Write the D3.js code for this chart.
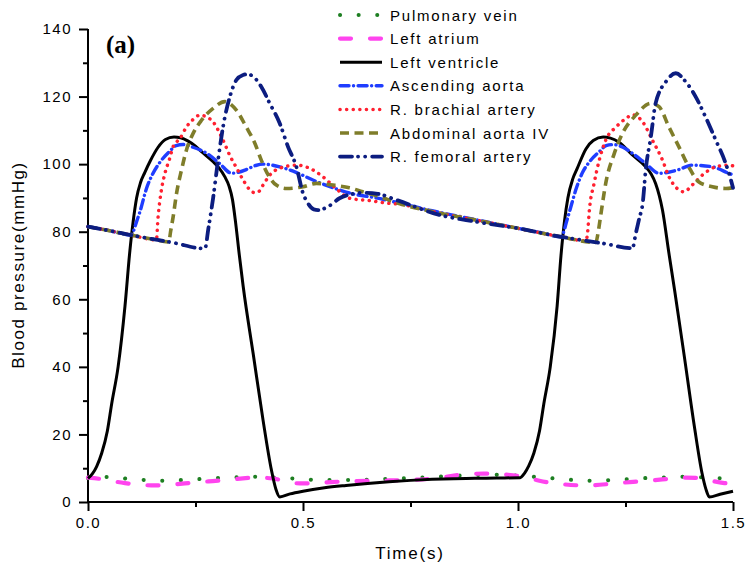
<!DOCTYPE html>
<html><head><meta charset="utf-8">
<script src="https://cdn.jsdelivr.net/npm/d3@7"></script>
<style>
body{margin:0;background:#fff;}
svg{display:block;font-family:"Liberation Sans",Arial,sans-serif;}
</style></head>
<body><svg id="c" width="745" height="567"></svg>
<script>
// ---- data (time in s, pressure in mmHg) ----
const seriesNames = ["Pulmonary vein","Left atrium","Left ventricle","Ascending aorta","R. brachial artery","Abdominal aorta IV","R. femoral artery"];
const xTicks = [0.0, 0.5, 1.0, 1.5];
const xTickLabels = ["0.0","0.5","1.0","1.5"];
const yTicks = [0,20,40,60,80,100,120,140];

const pulmonaryVein = [[0,7.0],[0.047,7.4],[0.09,6.9],[0.132,6.5],[0.175,6.3],[0.217,6.5],[0.26,6.8],[0.3,7.1],[0.345,7.3],[0.39,7.5],[0.43,7.3],[0.473,7.0],[0.52,6.6],[0.56,6.5],[0.6,6.5],[0.647,6.6],[0.686,6.8],[0.73,7.0],[0.775,7.2],[0.818,7.5],[0.863,7.8],[0.902,8.0],[0.946,8.1],[0.99,7.9],[1.034,7.5],[1.09,6.9],[1.132,6.5],[1.175,6.3],[1.217,6.5],[1.26,6.8],[1.3,7.1],[1.345,7.3],[1.39,7.5],[1.43,7.3],[1.473,7.0],[1.5,6.8]];

const leftAtrium = [[0,7.2],[0.03,6.8],[0.06,6.1],[0.086,5.6],[0.12,5.1],[0.155,4.9],[0.19,5.1],[0.225,5.5],[0.26,5.9],[0.29,6.2],[0.33,6.6],[0.36,7.0],[0.39,7.2],[0.43,7.0],[0.457,6.1],[0.48,5.6],[0.5,5.5],[0.55,5.8],[0.6,6.1],[0.667,6.3],[0.765,6.6],[0.82,7.2],[0.863,8.0],[0.92,8.4],[0.96,8.2],[1.01,7.5],[1.04,6.6],[1.07,5.8],[1.1,5.3],[1.155,4.9],[1.19,5.1],[1.225,5.5],[1.26,5.9],[1.29,6.2],[1.33,6.6],[1.36,7.0],[1.39,7.2],[1.43,7.0],[1.457,6.1],[1.48,5.6],[1.5,5.4]];

const leftVentricle = [[0,7],[0.01,8.3],[0.02,10.5],[0.032,14.5],[0.045,21],[0.055,29],[0.07,40],[0.086,58],[0.0975,74.5],[0.105,83],[0.113,90],[0.122,94.5],[0.132,97.5],[0.145,101],[0.163,105],[0.18,107.3],[0.2,108],[0.215,107.8],[0.233,106.8],[0.25,105.3],[0.264,103.7],[0.291,100.7],[0.305,98.8],[0.318,96.3],[0.328,93.5],[0.336,89.5],[0.343,83],[0.352,73],[0.361,63.7],[0.384,44],[0.407,24.3],[0.4265,9.5],[0.437,3.8],[0.446,1.5],[0.47,2.4],[0.5,3.2],[0.55,4.2],[0.6,4.9],[0.65,5.5],[0.7,6],[0.75,6.4],[0.8,6.7],[0.85,6.9],[0.9,7.0],[0.95,7.1],[1.005,7.2],[1.015,8.5],[1.025,10.7],[1.037,14.5],[1.05,21],[1.06,29],[1.075,40],[1.091,58],[1.1,73],[1.108,83],[1.116,90],[1.127,95.5],[1.137,98.5],[1.158,104.5],[1.175,107],[1.198,108],[1.215,107.7],[1.235,106.5],[1.266,102.7],[1.297,99.2],[1.31,97],[1.32,94.3],[1.336,86.4],[1.351,73.6],[1.365,62],[1.388,42],[1.41,22.5],[1.428,8.5],[1.437,3.8],[1.445,1.5],[1.47,2.3],[1.5,3.2]];

const ascendingAorta = [[0,81.5],[0.05,80.3],[0.1,79],[0.105,80],[0.113,83],[0.121,86],[0.136,92.8],[0.15,97],[0.167,100.5],[0.19,103.8],[0.205,105.5],[0.221,105.8],[0.244,105],[0.276,103.2],[0.306,100.2],[0.334,97.3],[0.35,97.6],[0.368,98.4],[0.39,99.6],[0.407,100],[0.446,99.2],[0.485,97.5],[0.523,95.3],[0.57,93],[0.616,91.2],[0.67,90],[0.72,88.6],[0.8,86.2],[0.9,83.6],[1.0,81],[1.05,79.8],[1.1,78.5],[1.105,79.5],[1.113,83],[1.121,86.5],[1.136,93],[1.15,97.5],[1.167,100.8],[1.19,103.8],[1.205,105.5],[1.221,105.8],[1.244,105],[1.266,103.2],[1.297,100.2],[1.328,97.3],[1.35,97.6],[1.374,98.4],[1.405,99.7],[1.452,99.2],[1.49,97.3],[1.5,96.8]];

const brachialArtery = [[0,81.5],[0.05,80.3],[0.1,79],[0.159,77.6],[0.163,84.4],[0.17,91.8],[0.179,97.3],[0.19,101.7],[0.198,105.2],[0.214,107.6],[0.229,111],[0.245,113.3],[0.26,114.5],[0.275,114],[0.291,112.5],[0.305,109.5],[0.318,106],[0.33,102.5],[0.345,99],[0.36,95.5],[0.375,92.6],[0.386,91.6],[0.396,91.8],[0.407,93.8],[0.423,96.8],[0.446,98.8],[0.485,99.7],[0.515,98.8],[0.546,96.3],[0.577,92.8],[0.608,89.9],[0.655,89.2],[0.7,88.4],[0.72,88.2],[0.8,86],[0.9,83.5],[1.0,81],[1.1,78.5],[1.158,77.3],[1.162,80],[1.166,86.4],[1.177,94.3],[1.189,101.2],[1.204,107.1],[1.228,111],[1.251,113.5],[1.266,114.6],[1.29,112.5],[1.3125,107.1],[1.336,101.2],[1.351,96.3],[1.37,92.8],[1.386,91.8],[1.405,93.8],[1.429,96.8],[1.46,99.2],[1.49,99.7],[1.5,99.5]];

const abdominalAorta = [[0,81.5],[0.05,80.3],[0.1,79],[0.15,77.8],[0.188,77],[0.192,80],[0.198,84.4],[0.206,91.4],[0.2175,98.3],[0.229,104.2],[0.2445,109.1],[0.264,113],[0.291,116.5],[0.318,118.5],[0.345,116],[0.368,111],[0.388,106.2],[0.403,101.2],[0.419,96.8],[0.438,93.8],[0.461,92.8],[0.5,93.3],[0.531,94.3],[0.57,93.8],[0.608,93],[0.639,91.8],[0.678,90.4],[0.717,88.6],[0.8,86],[0.9,83.5],[1.0,81],[1.1,78.5],[1.181,76.8],[1.186,79.5],[1.193,85.4],[1.204,94.3],[1.224,103.2],[1.243,109.1],[1.274,114.5],[1.309,118],[1.328,117],[1.351,111],[1.374,105.2],[1.397,99.2],[1.42,94.8],[1.452,93.3],[1.483,92.8],[1.5,93]];

const femoralArtery = [[0,81.5],[0.05,80.3],[0.1,79],[0.2,76.7],[0.272,75],[0.28,81],[0.291,90],[0.3025,101.2],[0.314,111],[0.33,120],[0.345,124.9],[0.3606,126.4],[0.37,126.6],[0.38,126.3],[0.403,122.9],[0.4226,118],[0.4458,112.1],[0.465,105.2],[0.4846,99.2],[0.5,91.4],[0.5115,88.4],[0.525,86.6],[0.535,86.4],[0.558,87.4],[0.585,89.9],[0.616,91.2],[0.639,91.5],[0.674,91.2],[0.717,89.4],[0.817,85],[0.9,83],[1.0,81],[1.1,78.5],[1.2,76.5],[1.266,75.1],[1.274,79.5],[1.282,84],[1.29,88.4],[1.297,98.3],[1.309,108.1],[1.32,118],[1.344,124.4],[1.367,126.9],[1.39,124.4],[1.413,120],[1.436,114],[1.46,107.1],[1.483,100.2],[1.494,95.8],[1.5,93]];

const seriesData = [pulmonaryVein, leftAtrium, leftVentricle, ascendingAorta, brachialArtery, abdominalAorta, femoralArtery];

// ---- styles ----
const styles = [
  {color:"#1e7f22", width:4,   dash:"0.1,18.5", cap:"round"},
  {color:"#ff44ee", width:4.2, dash:"11,19",    cap:"round"},
  {color:"#000000", width:3,   dash:null,       cap:"butt"},
  {color:"#1f3dff", width:3.4, dash:"9,4.5,0.1,4.5", cap:"round"},
  {color:"#ff2030", width:3.5, dash:"0.1,6.5",  cap:"round"},
  {color:"#7f7d2a", width:3.6, dash:"9,5.5",    cap:"butt"},
  {color:"#0c1d80", width:3.8, dash:"12,6,0.1,7,0.1,7", cap:"round"}
];

const svg = d3.select("#c");
const x = d3.scaleLinear().domain([0,1.5]).range([88,733]);
const y = d3.scaleLinear().domain([0,140]).range([502,29]);

// axes
const gy = svg.append("g").attr("transform","translate(88,0)")
  .call(d3.axisLeft(y).tickValues(yTicks).tickSize(9).tickPadding(7).tickFormat(d3.format("d")));
svg.append("g").attr("transform","translate(88,0)")
  .call(d3.axisLeft(y).tickValues([10,30,50,70,90,110,130]).tickSize(5).tickFormat(""))
  .select(".domain").remove();
const gx = svg.append("g").attr("transform","translate(0,502)")
  .call(d3.axisBottom(x).tickValues(xTicks).tickSize(9).tickPadding(6).tickFormat((d,i)=>xTickLabels[i]));
svg.append("g").attr("transform","translate(0,502)")
  .call(d3.axisBottom(x).tickValues([0.25,0.75,1.25]).tickSize(5).tickFormat(""))
  .select(".domain").remove();
svg.selectAll(".domain").attr("stroke","#000").attr("stroke-width",2);
svg.selectAll(".tick line").attr("stroke","#000").attr("stroke-width",2);
svg.selectAll(".tick text").attr("font-size","15px").attr("font-family","Liberation Sans, Arial, sans-serif")
  .attr("fill","#000").style("letter-spacing","1.5px");
gy.select(".domain").attr("d", `M0,${y(0)}V${y(140)}`);
gx.select(".domain").attr("d", `M${x(0)},0H${x(1.5)}`);

// lines
const line = d3.line().x(d=>x(d[0])).y(d=>y(d[1])).curve(d3.curveMonotoneX);
seriesData.forEach((data,i)=>{
  const s = styles[i];
  svg.append("path").datum(data).attr("d",line).attr("fill","none")
    .attr("stroke",s.color).attr("stroke-width",s.width)
    .attr("stroke-linecap",s.cap).attr("stroke-linejoin","round")
    .attr("stroke-dasharray",s.dash);
});

// legend
const lg = svg.append("g");
seriesNames.forEach((name,i)=>{
  const s = styles[i];
  const yy = 15 + i*23.6;
  lg.append("line").attr("x1",340).attr("x2",382).attr("y1",yy).attr("y2",yy)
    .attr("stroke",s.color).attr("stroke-width",s.width)
    .attr("stroke-linecap",s.cap).attr("stroke-dasharray",s.dash);
  lg.append("text").attr("x",390).attr("y",yy+5.5).text(name)
    .attr("font-size","15px").style("letter-spacing","1.8px").attr("fill","#000");
});

// titles
svg.append("text").attr("x",410).attr("y",559).attr("text-anchor","middle")
  .attr("font-size","17px").style("letter-spacing","1.8px").text("Time(s)");
svg.append("text").attr("transform","translate(24,265) rotate(-90)").attr("text-anchor","middle")
  .attr("font-size","17px").style("letter-spacing","1.6px").text("Blood pressure(mmHg)");
svg.append("text").attr("x",106).attr("y",53).attr("font-family","Liberation Serif, Times New Roman, serif")
  .attr("font-weight","bold").attr("font-size","25px").text("(a)");
</script></body></html>
